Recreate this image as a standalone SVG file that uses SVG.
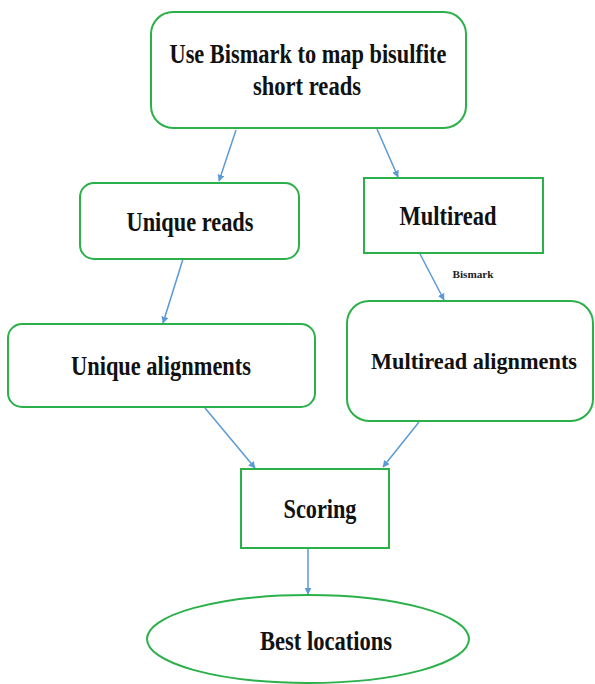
<svg xmlns="http://www.w3.org/2000/svg" width="595" height="684" viewBox="0 0 595 684">
<defs>
<style>
.box{fill:#fff;stroke:#2bb04a;stroke-width:2}
.lbl{font-family:"Liberation Serif","Times New Roman",serif;font-weight:bold;fill:#111;text-anchor:middle;font-size:27px}
.sm{font-family:"Liberation Serif","Times New Roman",serif;font-weight:bold;fill:#222;text-anchor:middle;font-size:10px}
.con{stroke:#5b9bd5;stroke-width:1.5;fill:none;marker-end:url(#ah)}
</style>
<marker id="ah" viewBox="0 0 10 10" refX="9" refY="5" markerWidth="7" markerHeight="7" orient="auto" markerUnits="userSpaceOnUse">
<path d="M0,0 L10,5 L0,10 z" fill="#5b9bd5"/>
</marker>
</defs>
<rect width="595" height="684" fill="#fff"/>
<g id="connectors">
<line class="con" x1="236" y1="130" x2="219" y2="181"/>
<line class="con" x1="377" y1="129" x2="398" y2="177"/>
<line class="con" x1="183" y1="259" x2="163" y2="323"/>
<line class="con" x1="420" y1="254" x2="444" y2="300"/>
<line class="con" x1="205" y1="408" x2="255" y2="468"/>
<line class="con" x1="419" y1="422" x2="383" y2="467"/>
<line class="con" x1="308" y1="548" x2="308" y2="594"/>
<text class="sm" x="473" y="278" textLength="41" lengthAdjust="spacingAndGlyphs">Bismark</text>
</g>
<g id="n_top">
<rect class="box" x="151" y="12" width="315" height="116" rx="22"/>
<text class="lbl" x="308" y="63" textLength="277" lengthAdjust="spacingAndGlyphs">Use Bismark to map bisulfite</text>
<text class="lbl" x="307" y="95" textLength="108" lengthAdjust="spacingAndGlyphs">short reads</text>
</g>
<g id="n_unique_reads">
<rect class="box" x="80" y="183" width="219" height="76" rx="14"/>
<text class="lbl" x="190" y="231" textLength="127" lengthAdjust="spacingAndGlyphs">Unique reads</text>
</g>
<g id="n_multiread">
<rect class="box" x="364" y="178" width="179" height="75"/>
<text class="lbl" x="448" y="225" textLength="97" lengthAdjust="spacingAndGlyphs">Multiread</text>
</g>
<g id="n_unique_align">
<rect class="box" x="8" y="324" width="307" height="83" rx="14"/>
<text class="lbl" x="161" y="375" textLength="180" lengthAdjust="spacingAndGlyphs">Unique alignments</text>
</g>
<g id="n_multi_align">
<rect class="box" x="347" y="301" width="246" height="120" rx="22"/>
<text class="lbl" x="474" y="369" style="font-size:24px" textLength="206" lengthAdjust="spacingAndGlyphs">Multiread alignments</text>
</g>
<g id="n_scoring">
<rect class="box" x="241" y="469" width="148" height="79"/>
<text class="lbl" x="320" y="518" textLength="73" lengthAdjust="spacingAndGlyphs">Scoring</text>
</g>
<g id="n_best">
<ellipse class="box" cx="308" cy="639" rx="161" ry="44"/>
<text class="lbl" x="326" y="650" textLength="132" lengthAdjust="spacingAndGlyphs">Best locations</text>
</g>
</svg>
